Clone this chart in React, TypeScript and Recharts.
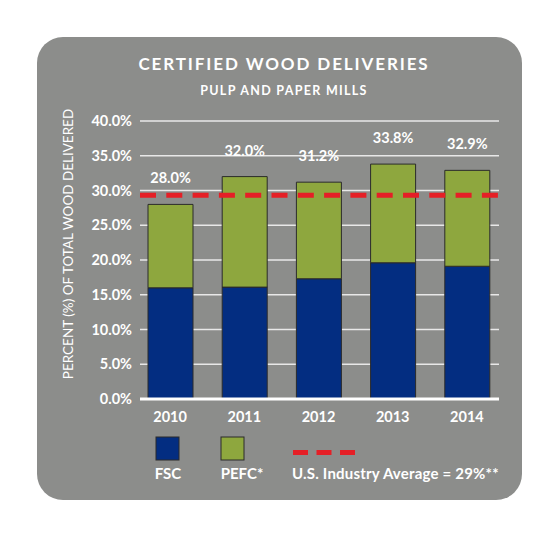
import React from 'react';
import { BarChart, Bar, XAxis, YAxis, CartesianGrid, ReferenceLine, LabelList } from 'recharts';

const YEARS = ['2010', '2011', '2012', '2013', '2014'];
const FSC = [16.0, 16.1, 17.3, 19.6, 19.1];
const PEFC = [12.0, 15.9, 13.9, 14.2, 13.8];
const TOTAL_LABELS = [28.0, 32.0, 31.2, 33.8, 32.9];
const Y_TICKS = [0, 5, 10, 15, 20, 25, 30, 35, 40];
const INDUSTRY_AVG = 29.3;

const FSC_COLOR = '#032d81';
const PEFC_COLOR = '#8ea73e';
const AVG_COLOR = '#e51f26';
const PANEL = '#8c8d8b';
const FONT = "Lato, 'Open Sans', sans-serif";

const data = YEARS.map((year, i) => ({
  year,
  fsc: FSC[i],
  pefc: PEFC[i],
  total: TOTAL_LABELS[i],
}));

const YLabel = (props: any) => {
  const { viewBox } = props;
  const x = viewBox.x + 27.5;
  const y = viewBox.y + viewBox.height / 2 - 16;
  return (
    <text
      x={x}
      y={y}
      transform={`rotate(-90, ${x}, ${y})`}
      textAnchor="middle"
      dominantBaseline="central"
      fill="#fff"
      fontSize={13.5}
      fontFamily={FONT}
    >
      PERCENT (%) OF TOTAL WOOD DELIVERED
    </text>
  );
};

export default function App() {
  return (
    <div style={{ position: 'absolute', left: 0, top: 0, width: 559, height: 538, background: '#fff', fontFamily: FONT }}>
      {/* grey card */}
      <div
        style={{
          position: 'absolute',
          left: 37,
          top: 37,
          width: 485,
          height: 463,
          background: PANEL,
          borderRadius: 26,
        }}
      />
      <svg width={559} height={538} style={{ position: 'absolute', left: 0, top: 0 }}>
        <text x={284} y={63} textAnchor="middle" dominantBaseline="central" fill="#fff" fontSize={17} fontWeight={700} letterSpacing={1.9} fontFamily={FONT}>
          CERTIFIED WOOD DELIVERIES
        </text>
        <text x={284} y={90} textAnchor="middle" dominantBaseline="central" fill="#fff" fontSize={12.5} fontWeight={700} letterSpacing={1.3} fontFamily={FONT}>
          PULP AND PAPER MILLS
        </text>
      </svg>
      <div style={{ position: 'absolute', left: 0, top: 0 }}>
        <BarChart
          width={559}
          height={538}
          data={data}
          margin={{ top: 121, right: 60, bottom: 109, left: 40 }}
        >
          <CartesianGrid vertical={false} stroke="#e8e8e8" strokeWidth={1.5} />
          <XAxis
            dataKey="year"
            height={30}
            padding={{ left: -7, right: -5 }}
            axisLine={{ stroke: '#fff', strokeWidth: 3 }}
            tickLine={false}
            tick={{ fill: '#fff', fontSize: 14.5, fontWeight: 700, fontFamily: FONT }}
            tickMargin={7}
          />
          <YAxis
            width={100}
            domain={[0, 40]}
            ticks={Y_TICKS}
            axisLine={false}
            tickLine={false}
            tickFormatter={(v: number) => `${v.toFixed(1)}%`}
            tick={{ fill: '#fff', fontSize: 14.5, fontWeight: 700, fontFamily: FONT }}
            label={{ content: YLabel }}
          />
          <Bar dataKey="fsc" stackId="a" fill={FSC_COLOR} stroke="#2b2b2b" strokeWidth={1} barSize={45} isAnimationActive={false} />
          <Bar dataKey="pefc" stackId="a" fill={PEFC_COLOR} stroke="#2b2b2b" strokeWidth={1} barSize={45} isAnimationActive={false}>
            <LabelList
              dataKey="total"
              position="top"
              offset={21}
              formatter={(v: any) => `${Number(v).toFixed(1)}%`}
              fill="#fff"
              fontSize={14.5}
              fontWeight={700}
              fontFamily={FONT}
            />
          </Bar>
          <ReferenceLine y={INDUSTRY_AVG} stroke={AVG_COLOR} strokeWidth={5} strokeDasharray="16 10.3" />
        </BarChart>
      </div>
      {/* legend */}
      <svg width={559} height={538} style={{ position: 'absolute', left: 0, top: 0, pointerEvents: 'none' }}>
        <rect x={156} y={437} width={23} height={23} fill={FSC_COLOR} stroke="#2b2b2b" strokeWidth={1} />
        <rect x={221} y={437} width={23} height={23} fill={PEFC_COLOR} stroke="#2b2b2b" strokeWidth={1} />
        <line x1={293} x2={355} y1={452.5} y2={452.5} stroke={AVG_COLOR} strokeWidth={5} strokeDasharray="15 8.5" />
        <text x={168} y={473} textAnchor="middle" dominantBaseline="central" fill="#fff" fontSize={15} fontWeight={700} fontFamily={FONT}>FSC</text>
        <text x={242} y={473} textAnchor="middle" dominantBaseline="central" fill="#fff" fontSize={15} fontWeight={700} fontFamily={FONT}>PEFC*</text>
        <text x={292} y={473} textAnchor="start" dominantBaseline="central" fill="#fff" fontSize={15} fontWeight={700} letterSpacing={0.2} fontFamily={FONT}>U.S. Industry Average = 29%**</text>
      </svg>
    </div>
  );
}
